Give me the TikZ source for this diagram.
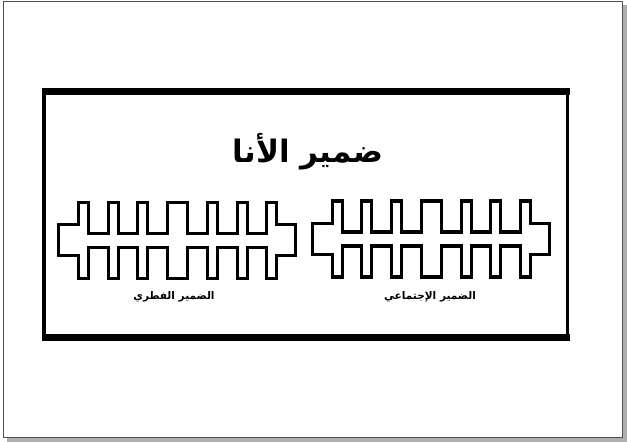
\documentclass[tikz,border=0pt]{standalone}
\usepackage{fontspec}
\usepackage{tikz}
\usetikzlibrary{positioning}
\TeXXeTstate=1
\newfontfamily\arabicfont[Script=Arabic]{DejaVu Sans}
\definecolor{framegray}{RGB}{80,80,80}
\definecolor{shadowgray}{RGB}{175,175,175}

\tikzset{
  keyline/.style={line width=2.4pt, miter limit=4},
  panelside/.style={line width=2.7pt},
  panelbar/.style={line width=4.6pt},
  titletext/.style={font=\arabicfont\bfseries\fontsize{22}{26}\selectfont, inner sep=0pt},
  labeltext/.style={font=\arabicfont\bfseries\fontsize{7.5}{9}\selectfont, inner sep=0pt},
}

% one meander key, body from x=0 to x=198, centred on y=0
\newcommand{\keyshape}{%
  \draw[keyline] (-20,-15.5) -- (0,-15.5) -- (0,-38)
    \foreach \a/\b in {10/29.5, 39.5/59, 69/89, 109/129, 139/158.5, 168.5/188}
      { -- (\a,-38) -- (\a,-7) -- (\b,-7) -- (\b,-38) }
    -- (198,-38) -- (198,-15.5) -- (217,-15.5) -- (217,15.5) -- (198,15.5) -- (198,38)
    \foreach \a/\b in {188/168.5, 158.5/139, 129/109, 89/69, 59/39.5, 29.5/10}
      { -- (\a,38) -- (\a,7) -- (\b,7) -- (\b,38) }
    -- (0,38) -- (0,15.5) -- (-20,15.5) -- cycle;
}

\begin{document}
\begin{tikzpicture}[x=0.025cm, y=-0.025cm]
  \useasboundingbox (0,0) rectangle (627,442);
  % page frame and its shadow
  \fill[shadowgray] (7,5) rectangle (627,442);
  \draw[framegray, fill=white, line width=0.6pt] (3,1) rectangle (622,437);
  % panel
  \draw[panelside] (43.7,91.7) rectangle (567.5,337.5);
  \draw[panelbar] (41.7,91.7) -- (569.5,91.7);
  \draw[panelbar] (41.7,337.5) -- (569.5,337.5);
  \node[titletext] (title) at (308,152) {\beginR ضمير الأنا\endR};
  % the two keys
  \begin{scope}[shift={(78.7,240.3)}] \keyshape \end{scope}
  \begin{scope}[shift={(332.3,239)}] \keyshape \end{scope}
  \node[labeltext] (natural) at (174,297) {\beginR الضمير الفطري\endR};
  \node[labeltext] (social) at (430,297) {\beginR الضمير الإجتماعي\endR};
\end{tikzpicture}
\end{document}
